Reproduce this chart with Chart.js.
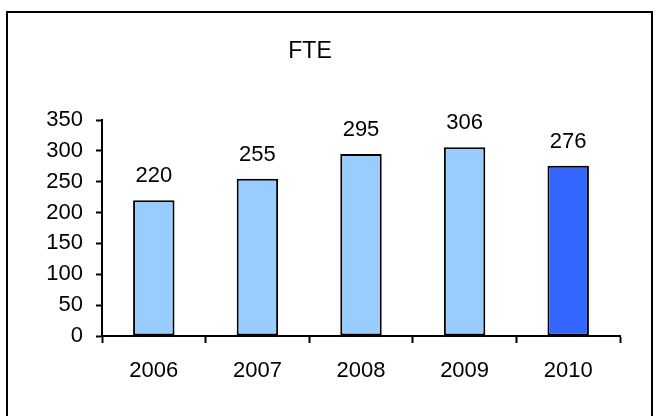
<!DOCTYPE html>
<html>
<head>
<meta charset="utf-8">
<script src="https://cdn.jsdelivr.net/npm/chart.js@4"></script>
<style>
  html, body { margin: 0; padding: 0; background: #fff; }
  #wrap { width: 656px; height: 416px; }
</style>
</head>
<body>
<div id="wrap"><canvas id="fte" width="656" height="416"></canvas></div>
<script>
let years = ["2006", "2007", "2008", "2009", "2010"];
let fteValues = [220, 255, 295, 306, 276];
let barColors = ["#99ccff", "#99ccff", "#99ccff", "#99ccff", "#3366ff"];
let yTicks = [0, 50, 100, 150, 200, 250, 300, 350];

const FONT = "'Liberation Sans', Arial, sans-serif";

// outer frame + value labels above bars
let framePlugin = {
    id: "frame",
    beforeDraw(chart) {
        let ctx = chart.ctx;
        ctx.save();
        ctx.fillStyle = "#fff";
        ctx.fillRect(0, 0, chart.width, chart.height);
        ctx.strokeStyle = "#000";
        ctx.lineWidth = 2;
        ctx.strokeRect(7, 12, 645, 420);
        ctx.restore();
    },
    afterDatasetsDraw(chart) {
        let ctx = chart.ctx;
        let meta = chart.getDatasetMeta(0);
        ctx.save();
        ctx.font = "22px " + FONT;
        ctx.fillStyle = "#000";
        ctx.textAlign = "center";
        ctx.textBaseline = "alphabetic";
        meta.data.forEach((bar, i) => {
            ctx.fillText(String(fteValues[i]), bar.x, bar.y - 18);
        });
        ctx.restore();
    }
};

new Chart(document.getElementById("fte"), {
    type: "bar",
    data: {
        labels: years,
        datasets: [{
            data: fteValues,
            backgroundColor: barColors,
            borderColor: "#000",
            borderWidth: 2,
            borderSkipped: false,
            barPercentage: 0.4,
            categoryPercentage: 1
        }]
    },
    options: {
        responsive: false,
        animation: false,
        devicePixelRatio: 1,
        layout: { padding: { left: 0, right: 36, top: 0, bottom: 0 } },
        plugins: {
            legend: { display: false },
            tooltip: { enabled: false },
            title: {
                display: true,
                text: "FTE",
                color: "#000",
                font: { family: FONT, size: 23, weight: "normal", lineHeight: 1.2 },
                padding: { top: 38, bottom: 54.4 }
            }
        },
        scales: {
            x: {
                offset: true,
                grid: {
                    display: true,
                    offset: true,
                    drawOnChartArea: false,
                    drawTicks: true,
                    tickLength: 7,
                    tickWidth: 2,
                    color: "#000"
                },
                border: { display: true, color: "#000", width: 2 },
                ticks: {
                    color: "#000",
                    font: { family: FONT, size: 22 },
                    padding: 15,
                    maxRotation: 0
                },
                afterFit(scale) { scale.height = 80; }
            },
            y: {
                min: 0,
                max: 350,
                afterBuildTicks(scale) { scale.ticks = yTicks.map(v => ({ value: v })); },
                grid: {
                    display: true,
                    drawOnChartArea: false,
                    drawTicks: true,
                    tickLength: 6,
                    tickWidth: 2,
                    color: "#000"
                },
                border: { display: true, color: "#000", width: 2 },
                ticks: {
                    color: "#000",
                    font: { family: FONT, size: 22 },
                    padding: 13
                },
                afterFit(scale) { scale.width = 102; }
            }
        }
    },
    plugins: [framePlugin]
});
</script>
</body>
</html>
